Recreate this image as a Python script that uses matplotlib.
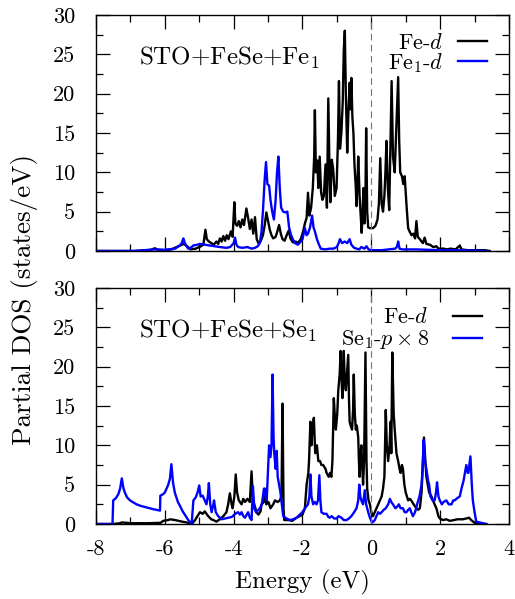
import numpy as np
import matplotlib
matplotlib.use("Agg")
import matplotlib.pyplot as plt
from matplotlib.ticker import MultipleLocator

plt.rcParams["font.family"] = "serif"
plt.rcParams["font.serif"] = ["cmr10"]
plt.rcParams["mathtext.fontset"] = "cm"
plt.rcParams["axes.unicode_minus"] = False

# (energy eV, DOS)
fe_top = [(-8.0, 0), (-6.9, 0), (-6.6, 0.05), (-6.4, 0.15), (-6.29, 0.35), (-6.2, 0.15), (-6.0, 0.1),
          (-5.8, 0.2), (-5.66, 0.5), (-5.55, 0.7), (-5.45, 0.9), (-5.35, 0.6), (-5.25, 0.2), (-5.1, 0.3),
          (-4.95, 0.6), (-4.88, 0.8), (-4.82, 2.7), (-4.78, 1.5), (-4.72, 1.2), (-4.65, 1.0), (-4.58, 0.8),
          (-4.5, 1.2), (-4.45, 0.9), (-4.4, 1.6), (-4.35, 1.2), (-4.3, 1.9), (-4.25, 1.3), (-4.2, 2.0),
          (-4.15, 1.5), (-4.08, 2.5), (-4.03, 1.8), (-3.98, 6.2), (-3.95, 3.5), (-3.9, 3.2), (-3.85, 3.8),
          (-3.8, 3.0), (-3.75, 4.0), (-3.7, 3.3), (-3.63, 5.4), (-3.58, 4.2), (-3.53, 2.8), (-3.48, 4.0),
          (-3.43, 2.2), (-3.38, 4.3), (-3.33, 1.5), (-3.28, 1.0), (-3.22, 1.2), (-3.15, 2.0), (-3.1, 3.2),
          (-3.05, 4.9), (-3.0, 3.8), (-2.95, 2.7), (-2.9, 2.0), (-2.85, 1.6), (-2.78, 1.8), (-2.73, 2.5),
          (-2.68, 3.3), (-2.63, 2.2), (-2.58, 1.5), (-2.52, 1.3), (-2.46, 2.0), (-2.4, 2.6), (-2.35, 1.6),
          (-2.28, 1.1), (-2.2, 1.2), (-2.13, 1.0), (-2.05, 1.5), (-1.98, 2.5), (-1.93, 3.5), (-1.88, 4.2),
          (-1.84, 7.4), (-1.8, 4.5), (-1.75, 5.5), (-1.7, 8.0), (-1.66, 12.0), (-1.64, 17.9), (-1.61, 10.0),
          (-1.57, 11.5), (-1.54, 8.0), (-1.5, 12.0), (-1.46, 7.5), (-1.42, 6.5), (-1.38, 7.0), (-1.33, 11.0),
          (-1.29, 5.5), (-1.25, 19.4), (-1.21, 9.0), (-1.19, 6.2), (-1.15, 11.6), (-1.11, 10.5), (-1.06, 7.0),
          (-1.01, 8.0), (-0.97, 14.0), (-0.94, 21.6), (-0.91, 13.0), (-0.87, 15.0), (-0.83, 19.0),
          (-0.8, 25.5), (-0.77, 28.0), (-0.74, 20.0), (-0.7, 12.5), (-0.67, 17.0), (-0.63, 21.4),
          (-0.6, 18.0), (-0.58, 22.0), (-0.55, 17.0), (-0.52, 15.0), (-0.49, 11.0), (-0.45, 8.0),
          (-0.43, 5.7), (-0.4, 9.0), (-0.38, 12.0), (-0.34, 7.0), (-0.3, 4.0), (-0.28, 2.3), (-0.25, 5.0),
          (-0.23, 8.0), (-0.2, 3.5), (-0.17, 7.0), (-0.15, 15.6), (-0.12, 5.0), (-0.09, 3.0), (-0.04, 2.9),
          (0.05, 2.9), (0.12, 3.2), (0.18, 4.0), (0.22, 6.0), (0.26, 11.8), (0.3, 6.0), (0.34, 5.0),
          (0.38, 7.0), (0.41, 10.0), (0.44, 14.0), (0.48, 8.0), (0.52, 5.2), (0.55, 12.0), (0.59, 21.6),
          (0.63, 12.0), (0.68, 10.0), (0.72, 15.0), (0.78, 22.1), (0.81, 14.0), (0.84, 10.0), (0.89, 9.5),
          (0.93, 8.5), (0.97, 9.5), (1.02, 6.0), (1.07, 2.9), (1.12, 2.4), (1.17, 2.0), (1.22, 2.2),
          (1.27, 1.6), (1.31, 3.8), (1.35, 1.8), (1.41, 1.5), (1.46, 1.2), (1.5, 1.0), (1.55, 1.7),
          (1.6, 0.9), (1.7, 0.8), (1.8, 0.5), (1.89, 0.6), (1.95, 0.3), (2.1, 0.3), (2.2, 0.2), (2.3, 0.3),
          (2.45, 0.2), (2.57, 0.7), (2.62, 0.2), (2.8, 0.1), (3.3, 0.1), (3.44, 0.0)]

fe1_top = [(-8.0, 0), (-6.9, 0), (-6.6, 0.1), (-6.3, 0.2), (-6.0, 0.15), (-5.7, 0.3), (-5.6, 0.6),
           (-5.52, 0.9), (-5.46, 1.6), (-5.42, 1.0), (-5.37, 0.6), (-5.32, 0.3), (-5.25, 0.4), (-5.17, 0.7),
           (-5.05, 0.8), (-4.98, 0.9), (-4.85, 0.8), (-4.7, 0.7), (-4.55, 0.6), (-4.4, 0.5), (-4.21, 0.4),
           (-4.1, 0.5), (-4.0, 1.0), (-3.96, 1.7), (-3.92, 0.8), (-3.87, 0.5), (-3.75, 0.4), (-3.6, 0.5),
           (-3.48, 0.3), (-3.38, 0.4), (-3.3, 0.6), (-3.24, 1.0), (-3.19, 2.5), (-3.15, 5.0), (-3.1, 9.0),
           (-3.06, 11.3), (-3.02, 8.5), (-2.97, 8.3), (-2.93, 6.5), (-2.88, 5.0), (-2.83, 4.0), (-2.78, 6.5),
           (-2.74, 10.0), (-2.7, 12.0), (-2.66, 8.0), (-2.62, 5.5), (-2.56, 5.0), (-2.5, 4.9), (-2.44, 5.0),
           (-2.39, 3.0), (-2.33, 2.0), (-2.27, 1.4), (-2.22, 1.0), (-2.13, 0.8), (-2.05, 1.2), (-2.0, 1.5),
           (-1.93, 2.9), (-1.88, 2.0), (-1.84, 2.2), (-1.78, 3.0), (-1.72, 4.5), (-1.68, 3.0), (-1.64, 2.5),
           (-1.58, 1.5), (-1.52, 0.8), (-1.47, 0.3), (-1.35, 0.2), (-1.2, 0.3), (-1.1, 0.3), (-1.0, 0.5),
           (-0.95, 1.0), (-0.91, 1.5), (-0.85, 1.0), (-0.77, 1.2), (-0.7, 1.0), (-0.63, 1.5), (-0.58, 0.8),
           (-0.5, 0.4), (-0.43, 0.3), (-0.35, 0.2), (-0.29, 0.5), (-0.2, 0.3), (-0.14, 0.6), (-0.08, 0.2),
           (0.0, 0.1), (0.3, 0.1), (0.5, 0.2), (0.7, 0.3), (0.75, 0.6), (0.78, 1.2), (0.82, 0.3), (0.9, 0.2),
           (1.3, 0.2), (2.0, 0.1), (2.6, 0.1), (3.34, 0.0)]

fe_bot = [(-8.0, 0), (-7.5, 0), (-7.3, 0.1), (-7.25, 0.2), (-7.0, 0.1), (-6.5, 0.1), (-6.12, 0.15),
          (-6.05, 0.4), (-5.9, 0.5), (-5.85, 0.6), (-5.7, 0.5), (-5.5, 0.3), (-5.37, 0.2), (-5.22, 0.0),
          (-5.12, 0.5), (-5.08, 0.8), (-4.98, 1.5), (-4.9, 1.3), (-4.84, 1.6), (-4.74, 1.0), (-4.65, 0.6),
          (-4.59, 0.5), (-4.5, 0.3), (-4.4, 0.6), (-4.3, 1.0), (-4.21, 1.5), (-4.16, 2.5), (-4.11, 3.9),
          (-4.06, 2.5), (-4.03, 2.0), (-3.98, 3.5), (-3.94, 6.3), (-3.9, 4.0), (-3.85, 3.0), (-3.77, 2.5),
          (-3.72, 3.2), (-3.67, 2.8), (-3.6, 3.2), (-3.53, 2.8), (-3.48, 6.7), (-3.44, 3.0), (-3.38, 2.2),
          (-3.34, 1.5), (-3.28, 1.2), (-3.22, 1.6), (-3.19, 2.5), (-3.12, 2.8), (-3.09, 4.5), (-3.05, 2.5),
          (-2.99, 2.8), (-2.93, 2.0), (-2.85, 2.5), (-2.8, 3.0), (-2.72, 2.8), (-2.66, 3.0), (-2.61, 3.5),
          (-2.58, 15.3), (-2.55, 2.0), (-2.53, 0.5), (-2.4, 0.5), (-2.3, 0.4), (-2.17, 0.8), (-2.08, 1.0),
          (-2.0, 1.2), (-1.93, 2.0), (-1.88, 5.0), (-1.83, 6.5), (-1.81, 8.0), (-1.77, 13.0), (-1.74, 10.0),
          (-1.72, 11.5), (-1.67, 13.5), (-1.63, 9.0), (-1.58, 10.0), (-1.54, 8.0), (-1.49, 8.0),
          (-1.45, 7.5), (-1.4, 7.5), (-1.33, 7.0), (-1.3, 6.5), (-1.24, 6.0), (-1.2, 6.5), (-1.16, 6.0),
          (-1.13, 8.0), (-1.09, 16.0), (-1.05, 13.0), (-1.03, 12.0), (-0.99, 14.0), (-0.96, 17.0),
          (-0.92, 19.0), (-0.89, 22.0), (-0.86, 18.0), (-0.84, 16.0), (-0.82, 19.0), (-0.8, 22.0),
          (-0.77, 18.0), (-0.74, 17.0), (-0.7, 19.5), (-0.67, 21.5), (-0.65, 16.0), (-0.63, 13.0),
          (-0.6, 12.5), (-0.56, 12.0), (-0.53, 14.5), (-0.51, 19.0), (-0.48, 14.0), (-0.45, 12.0),
          (-0.42, 12.5), (-0.38, 11.0), (-0.36, 8.0), (-0.34, 6.0), (-0.31, 9.0), (-0.29, 10.0),
          (-0.26, 7.0), (-0.24, 5.0), (-0.21, 8.0), (-0.17, 21.8), (-0.14, 8.0), (-0.12, 4.5), (-0.08, 3.0),
          (-0.04, 2.5), (0.0, 1.5), (0.05, 1.0), (0.1, 1.5), (0.15, 2.0), (0.2, 2.5), (0.25, 3.0),
          (0.3, 3.5), (0.34, 4.5), (0.38, 6.0), (0.42, 14.5), (0.45, 10.0), (0.49, 8.0), (0.53, 10.0),
          (0.56, 13.0), (0.58, 9.0), (0.61, 21.8), (0.65, 14.0), (0.68, 12.0), (0.73, 9.0), (0.78, 8.0),
          (0.82, 7.0), (0.85, 6.5), (0.89, 7.5), (0.92, 7.0), (0.96, 5.0), (1.0, 4.0), (1.07, 3.0),
          (1.12, 3.2), (1.16, 3.0), (1.23, 2.5), (1.31, 2.0), (1.36, 1.8), (1.41, 2.0), (1.46, 4.0),
          (1.5, 8.0), (1.53, 11.0), (1.57, 8.0), (1.6, 6.0), (1.68, 4.0), (1.75, 3.5), (1.79, 3.0),
          (1.84, 2.5), (1.89, 2.0), (1.95, 1.0), (1.99, 0.7), (2.08, 0.5), (2.18, 0.6), (2.28, 0.4),
          (2.4, 0.5), (2.5, 0.6), (2.66, 0.6), (2.76, 0.7), (2.84, 0.8), (2.9, 0.5), (2.96, 0.3),
          (3.05, 0.0), (3.34, 0.0)]

se1_bot = [(-8.0, 0), (-7.52, 0), (-7.5, 3.0), (-7.42, 3.3), (-7.35, 3.8), (-7.3, 4.5), (-7.25, 5.8),
           (-7.2, 4.5), (-7.16, 4.0), (-7.1, 3.4), (-7.01, 3.0), (-6.9, 2.7), (-6.82, 2.5), (-6.7, 2.3),
           (-6.53, 2.1), (-6.35, 1.9), (-6.14, 1.7), (-6.13, 3.6), (-6.05, 3.8), (-6.0, 4.0), (-5.9, 5.0),
           (-5.85, 5.8), (-5.81, 7.6), (-5.76, 5.2), (-5.71, 4.0), (-5.62, 2.8), (-5.56, 2.3), (-5.48, 1.6),
           (-5.42, 1.2), (-5.32, 0.5), (-5.22, 0.0), (-5.17, 3.0), (-5.1, 3.4), (-5.05, 4.0), (-5.0, 4.9),
           (-4.96, 3.5), (-4.9, 3.6), (-4.84, 3.0), (-4.79, 2.5), (-4.75, 3.5), (-4.72, 5.2), (-4.68, 2.5),
           (-4.64, 1.5), (-4.59, 2.5), (-4.57, 3.0), (-4.52, 1.5), (-4.45, 1.0), (-4.35, 0.6), (-4.25, 0.7),
           (-4.15, 0.8), (-4.05, 0.9), (-3.98, 1.2), (-3.92, 1.4), (-3.87, 1.5), (-3.82, 1.2), (-3.77, 1.5),
           (-3.72, 1.0), (-3.67, 0.8), (-3.62, 1.2), (-3.58, 1.5), (-3.53, 0.8), (-3.48, 0.5), (-3.44, 4.8),
           (-3.4, 2.0), (-3.35, 1.5), (-3.28, 1.8), (-3.24, 2.0), (-3.18, 2.5), (-3.12, 4.5), (-3.07, 3.5),
           (-3.04, 3.0), (-3.0, 7.0), (-2.97, 10.0), (-2.93, 8.5), (-2.9, 10.0), (-2.87, 19.0),
           (-2.84, 11.0), (-2.82, 9.0), (-2.78, 7.0), (-2.75, 9.3), (-2.72, 6.0), (-2.68, 5.0), (-2.64, 4.0),
           (-2.6, 2.5), (-2.56, 1.0), (-2.5, 0.8), (-2.37, 0.5), (-2.27, 0.6), (-2.17, 0.8), (-2.08, 1.2),
           (-2.0, 1.5), (-1.93, 2.0), (-1.84, 2.5), (-1.8, 3.5), (-1.77, 6.3), (-1.74, 3.5), (-1.69, 2.5),
           (-1.64, 2.8), (-1.59, 2.5), (-1.55, 3.0), (-1.51, 6.2), (-1.48, 3.0), (-1.45, 1.5), (-1.38, 1.3),
           (-1.3, 1.3), (-1.25, 0.9), (-1.21, 0.8), (-1.15, 1.0), (-1.08, 0.7), (-1.01, 0.7), (-0.95, 1.0),
           (-0.87, 0.8), (-0.8, 0.5), (-0.72, 0.5), (-0.65, 0.7), (-0.58, 1.0), (-0.5, 1.5), (-0.43, 2.0),
           (-0.38, 3.0), (-0.35, 5.0), (-0.32, 3.5), (-0.29, 3.0), (-0.24, 2.5), (-0.19, 4.3), (-0.15, 2.5),
           (-0.09, 1.5), (-0.04, 0.8), (0.02, 0.2), (0.06, 0.3), (0.1, 0.5), (0.15, 1.0), (0.2, 1.5),
           (0.25, 1.3), (0.3, 1.5), (0.36, 1.8), (0.42, 2.0), (0.49, 2.5), (0.54, 3.2), (0.58, 2.8),
           (0.63, 2.5), (0.7, 2.0), (0.75, 2.2), (0.8, 2.5), (0.85, 2.0), (0.92, 2.0), (0.97, 1.5),
           (1.02, 1.5), (1.07, 1.8), (1.12, 2.0), (1.16, 1.5), (1.21, 1.0), (1.27, 1.5), (1.33, 2.5),
           (1.4, 3.5), (1.46, 5.0), (1.49, 7.0), (1.52, 10.7), (1.56, 8.0), (1.6, 7.0), (1.65, 5.5),
           (1.68, 5.0), (1.72, 3.5), (1.78, 3.0), (1.84, 3.0), (1.88, 4.0), (1.91, 5.3), (1.95, 3.5),
           (1.99, 3.0), (2.05, 2.5), (2.1, 2.8), (2.18, 3.0), (2.25, 2.5), (2.33, 2.5), (2.38, 3.0),
           (2.42, 3.0), (2.5, 3.3), (2.57, 3.5), (2.62, 4.5), (2.68, 5.5), (2.72, 6.5), (2.76, 7.5),
           (2.8, 6.5), (2.82, 6.5), (2.88, 8.6), (2.92, 5.0), (2.95, 3.0), (3.0, 1.5), (3.05, 0.3),
           (3.15, 0.2), (3.25, 0.1), (3.34, 0.0)]

xticks = [-8, -6, -4, -2, 0, 2, 4]
xticklabels = ["-8", "-6", "-4", "-2", "0", "2", "4"]
yticks = [0, 5, 10, 15, 20, 25, 30]
yticklabels = ["0", "5", "10", "15", "20", "25", "30"]

# title, black curve, blue curve, legend labels, legend anchor, text pad, row spacing
panels = [
    ("STO+FeSe+Fe$_1$", fe_top, fe1_top, "Fe-$d$", "Fe$_1$-$d$", (0.947, 0.925), 0.65, -0.08),
    ("STO+FeSe+Se$_1$", fe_bot, se1_bot, "Fe-$d$", r"Se$_1$-$p\times 8$", (0.935, 0.918), 1.1, 0.05),
]

fig = plt.figure(figsize=(5.15, 5.99), dpi=100)
ax_top = fig.add_axes([0.1864, 0.581, 0.8019, 0.394])
ax_bot = fig.add_axes([0.1864, 0.1252, 0.8019, 0.394])

for ax, (title, black, blue, lab1, lab2, anchor, tpad, lspace) in zip([ax_top, ax_bot], panels):
    e1, d1 = np.array(black).T
    e2, d2 = np.array(blue).T
    ax.plot(e1, d1, color="black", lw=1.7, label=lab1)
    ax.plot(e2, d2, color="#0000ff", lw=1.7, label=lab2)
    ax.axvline(0, color="0.45", lw=0.8, ls=(0, (6, 4)))

    ax.set_xlim(-8, 4)
    ax.set_ylim(0, 30)
    ax.set_xticks(xticks, xticklabels)
    ax.set_yticks(yticks, yticklabels)
    ax.xaxis.set_minor_locator(MultipleLocator(1))
    ax.yaxis.set_minor_locator(MultipleLocator(2.5))
    ax.tick_params(which="both", direction="in", top=True, right=True, labelsize=16)
    ax.tick_params(which="major", length=10, width=0.9)
    ax.tick_params(axis="y", which="major", pad=15)
    ax.tick_params(axis="x", which="major", pad=11)
    ax.tick_params(which="minor", length=5, width=0.9)
    for sp in ax.spines.values():
        sp.set_linewidth(1.0)

    ax.text(0.104, 0.788, title, transform=ax.transAxes, fontsize=18, va="baseline")
    ax.legend(loc="upper right", bbox_to_anchor=anchor, frameon=False, markerfirst=False,
              fontsize=16, handlelength=1.3, handletextpad=tpad, labelspacing=lspace,
              borderpad=0, borderaxespad=0)

ax_top.tick_params(labelbottom=False)
ax_bot.set_xlabel("Energy (eV)", fontsize=18, labelpad=8)
fig.text(0.048, 0.50, "Partial DOS (states/eV)", rotation=90, fontsize=19.5,
         ha="center", va="center")

fig.savefig("out.png", dpi=100)
